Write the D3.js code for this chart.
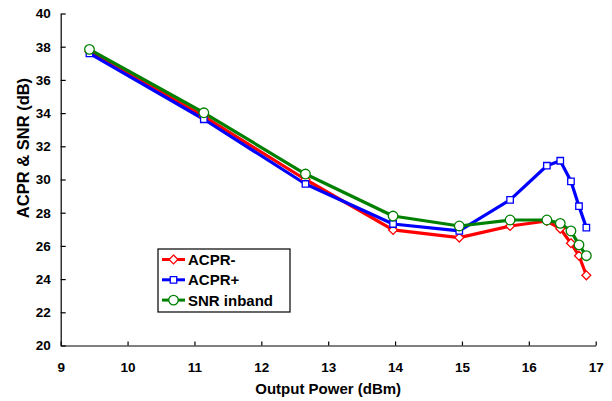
<!DOCTYPE html>
<html>
<head>
<meta charset="utf-8">
<script src="https://cdn.jsdelivr.net/npm/d3@7.9.0/dist/d3.min.js"></script>
<style>
  body { margin: 0; background: #fff; }
  svg text { font-family: Arial, "Liberation Sans", sans-serif; font-weight: bold; fill: #000; }
</style>
</head>
<body>
<svg id="chart" width="612" height="401"></svg>
<script>
// output power (dBm), shared by all series
const power = [9.43, 11.14, 12.66, 13.97, 14.96, 15.72, 16.27, 16.47, 16.63, 16.75, 16.86];
const acprMinus = [37.7, 33.8, 30.0, 26.96, 26.5, 27.2, 27.5, 27.04, 26.16, 25.41, 24.23];
const acprPlus = [37.6, 33.63, 29.73, 27.32, 26.9, 28.77, 30.83, 31.13, 29.89, 28.39, 27.1];
const snrInband = [37.84, 34.02, 30.33, 27.8, 27.2, 27.56, 27.56, 27.36, 26.9, 26.06, 25.41];

const xTicks = [9, 10, 11, 12, 13, 14, 15, 16, 17];
const yTicks = [20, 22, 24, 26, 28, 30, 32, 34, 36, 38, 40];

const series = [
  { name: 'ACPR-', values: acprMinus, color: '#ff0000', symbol: d3.symbolDiamond2 || d3.symbolDiamond, size: 50 },
  { name: 'ACPR+', values: acprPlus, color: '#0000ff', symbol: d3.symbolSquare, size: 42 },
  { name: 'SNR inband', values: snrInband, color: '#008000', symbol: d3.symbolCircle, size: 72 }
];

const svg = d3.select('#chart');
const x = d3.scaleLinear().domain([9, 17]).range([60.7, 595.7]);
const y = d3.scaleLinear().domain([20, 40]).range([345.5, 13.5]);

// axes, ticks point inward
const xAxis = svg.append('g')
  .attr('transform', `translate(0,${y(20)})`)
  .call(d3.axisBottom(x).tickValues(xTicks).tickSize(-4).tickSizeOuter(0).tickPadding(17));
const yAxis = svg.append('g')
  .attr('transform', `translate(${x(9)},0)`)
  .call(d3.axisLeft(y).tickValues(yTicks).tickSize(-5).tickSizeOuter(0).tickPadding(10));

[xAxis, yAxis].forEach(a => {
  a.selectAll('path, line').attr('stroke', '#000').attr('stroke-width', 1.2);
  a.selectAll('text').style('font-size', '13.5px');
});

svg.append('text')
  .attr('x', (x(9) + x(17)) / 2)
  .attr('y', 394)
  .attr('text-anchor', 'middle')
  .style('font-size', '15px')
  .text('Output Power (dBm)');

svg.append('text')
  .attr('transform', 'translate(29,148) rotate(-90)')
  .attr('text-anchor', 'middle')
  .style('font-size', '16.5px')
  .text('ACPR & SNR (dB)');

const line = d3.line()
  .x((d, i) => x(power[i]))
  .y(d => y(d));

series.forEach(s => {
  svg.append('path')
    .datum(s.values)
    .attr('d', line)
    .attr('fill', 'none')
    .attr('stroke', s.color)
    .attr('stroke-width', 3.2)
    .attr('stroke-linejoin', 'round');
});

series.forEach(s => {
  svg.selectAll(null)
    .data(s.values)
    .join('path')
    .attr('d', d3.symbol().type(s.symbol).size(s.size))
    .attr('transform', (d, i) => `translate(${x(power[i])},${y(d)})`)
    .attr('fill', '#fff')
    .attr('stroke', s.color)
    .attr('stroke-width', 1.3);
});

// legend
const legend = svg.append('g').attr('transform', 'translate(158,249)');
legend.append('rect')
  .attr('width', 132).attr('height', 63)
  .attr('fill', '#fff').attr('stroke', '#000').attr('stroke-width', 1.2);

series.forEach((s, i) => {
  const g = legend.append('g').attr('transform', `translate(0,${10.5 + i * 20.3})`);
  g.append('line')
    .attr('x1', 4).attr('x2', 27)
    .attr('stroke', s.color).attr('stroke-width', 3);
  g.append('path')
    .attr('d', d3.symbol().type(s.symbol).size(s.size))
    .attr('transform', 'translate(15.5,0)')
    .attr('fill', '#fff').attr('stroke', s.color).attr('stroke-width', 1.3);
  g.append('text')
    .attr('x', 30).attr('y', 5.5)
    .style('font-size', '15px')
    .text(s.name);
});
</script>
</body>
</html>
